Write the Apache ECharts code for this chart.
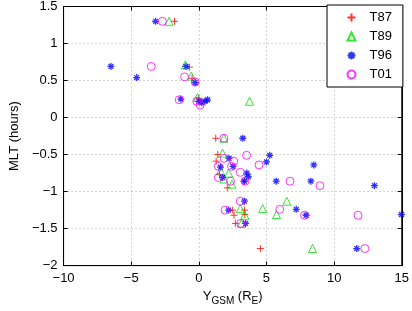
<!DOCTYPE html>
<html>
<head>
<meta charset="utf-8">
<script src="https://cdn.jsdelivr.net/npm/echarts@6/dist/echarts.min.js"></script>
<style>
  html, body { margin: 0; padding: 0; background: #fff; }
  #chart { width: 412px; height: 311px; }
</style>
</head>
<body>
<div id="chart"></div>
<script>
// values: Y_GSM (R_E) and MLT (hours)
const t87X = [-1.8, -0.7, -0.5, 0.0, 1.25, 1.4, 1.28, 1.52, 3.35, 2.1, 2.5, 3.37, 3.4, 2.6, 2.7, 4.55];
const t87Y = [1.3, 0.68, 0.53, 0.26, -0.28, -0.5, -0.59, -0.77, -0.86, -0.95, -1.25, -1.25, -1.31, -1.32, -1.43, -1.77];

const t89X = [-2.2, -1.0, -0.55, -0.1, 3.75, 1.85, 1.75, 2.2, 1.6, 1.87, 2.45, 4.72, 6.5, 5.74, 3.06, 3.4, 3.15, 8.4];
const t89Y = [1.3, 0.71, 0.56, 0.27, 0.22, -0.28, -0.48, -0.75, -0.72, -0.83, -0.9, -1.23, -1.13, -1.31, -1.23, -1.32, -1.43, -1.77];

const t96X = [-3.2, -6.5, -4.6, -0.95, -0.27, -1.33, 0.0, 0.2, 0.45, 0.65, 3.25, 5.24, 5.0, 2.23, 1.6, 2.53, 3.55, 3.65, 3.37, 1.75, 5.72, 8.5, 8.28, 12.98, 3.37, 2.2, 7.2, 7.93, 14.98, 3.46, 11.67];
const t96Y = [1.3, 0.69, 0.54, 0.69, 0.47, 0.25, 0.22, 0.2, 0.22, 0.24, -0.28, -0.51, -0.6, -0.55, -0.67, -0.66, -0.75, -0.8, -0.86, -0.81, -0.86, -0.64, -0.86, -0.92, -1.13, -1.25, -1.24, -1.32, -1.31, -1.43, -1.77];

const t01X = [-2.7, -3.52, -1.05, -0.27, -1.45, -0.15, 0.1, 1.85, 3.53, 4.45, 1.87, 1.44, 2.41, 2.58, 3.06, 3.41, 1.44, 2.34, 6.74, 8.95, 3.06, 1.94, 5.98, 7.81, 11.77, 3.1, 12.27];
const t01Y = [1.3, 0.69, 0.55, 0.48, 0.24, 0.22, 0.17, -0.28, -0.51, -0.64, -0.55, -0.66, -0.66, -0.59, -0.74, -0.86, -0.81, -0.86, -0.86, -0.92, -1.13, -1.25, -1.24, -1.32, -1.32, -1.43, -1.77];

const seriesNames = ["T87", "T89", "T96", "T01"];
const xTicks = { min: -10, max: 15, interval: 5 };
const yTicks = { min: -2, max: 1.5, interval: 0.5 };

function zip(xs, ys) {
    return xs.map((x, i) => [x, ys[i]]);
}
const minus = v => String(v).replace("-", "\u2212");

const font = "Liberation Sans, Arial, sans-serif";
const plusPath = "path://M0,5L10,5M5,0L5,10";
const starPath = "path://M0,5L10,5M5,0L5,10M1.5,1.5L8.5,8.5M8.5,1.5L1.5,8.5";

function makeSeries(name, data, symbol, size, color, width) {
    return {
        name: name,
        type: "scatter",
        data: data,
        symbol: symbol,
        symbolSize: size,
        symbolKeepAspect: true,
        itemStyle: { color: "none", borderColor: color, borderWidth: width },
        emphasis: { disabled: true }
    };
}

const grid = { left: 55, right: 6, top: 6, bottom: 39, show: true, borderColor: "#000", borderWidth: 1 };
const tickStyle = { show: true, inside: true, length: 4, lineStyle: { color: "#000" } };
const splitStyle = { show: true, lineStyle: { color: "#aaa", type: [1, 3], width: 1 } };
const lineStyle = { show: true, onZero: false, lineStyle: { color: "#000" } };

const chart = echarts.init(document.getElementById("chart"));
chart.setOption({
    animation: false,
    grid: grid,
    xAxis: [{
        type: "value", min: xTicks.min, max: xTicks.max, interval: xTicks.interval,
        axisLine: lineStyle,
        axisTick: tickStyle,
        splitLine: splitStyle,
        axisLabel: { color: "#000", fontSize: 13, fontFamily: font, margin: 6, formatter: minus },
        name: "{a|Y}{s|GSM}{a| (R}{s|E}{a|)}",
        nameLocation: "middle",
        nameGap: 20,
        nameTextStyle: {
            rich: {
                a: { fontSize: 13, fontFamily: font, color: "#000", lineHeight: 20, verticalAlign: "middle" },
                s: { fontSize: 10, fontFamily: font, color: "#000", lineHeight: 10, verticalAlign: "bottom" }
            }
        }
    }, {
        type: "value", position: "top", min: xTicks.min, max: xTicks.max, interval: xTicks.interval,
        axisLine: lineStyle,
        axisTick: tickStyle, axisLabel: { show: false }, splitLine: { show: false }
    }],
    yAxis: [{
        type: "value", min: yTicks.min, max: yTicks.max, interval: yTicks.interval,
        axisLine: lineStyle,
        axisTick: tickStyle,
        splitLine: splitStyle,
        axisLabel: { color: "#000", fontSize: 13, fontFamily: font, margin: 6, formatter: minus },
        name: "MLT (hours)",
        nameLocation: "middle",
        nameGap: 35,
        nameTextStyle: { fontSize: 13, fontFamily: font, color: "#000" }
    }, {
        type: "value", position: "right", min: yTicks.min, max: yTicks.max, interval: yTicks.interval,
        axisLine: lineStyle,
        axisTick: tickStyle, axisLabel: { show: false }, splitLine: { show: false }
    }],
    legend: {
        orient: "vertical",
        left: 327, top: 5,
        padding: [5, 11, 5, 18],
        itemWidth: 8, itemHeight: 8, itemGap: 4,
        backgroundColor: "#fff",
        borderColor: "#000", borderWidth: 1, borderRadius: 0,
        textStyle: { fontSize: 13, fontFamily: font, color: "#000", lineHeight: 15, padding: [0, 0, 0, 9] },
        data: seriesNames
    },
    series: [
        makeSeries("T87", zip(t87X, t87Y), plusPath, 7, "#ff0000", 1),
        makeSeries("T89", zip(t89X, t89Y), "triangle", 8, "#00e000", 1),
        makeSeries("T96", zip(t96X, t96Y), starPath, 7, "#0000ff", 1.3),
        makeSeries("T01", zip(t01X, t01Y), "circle", 8, "#ff00ff", 1)
    ]
});
</script>
</body>
</html>
